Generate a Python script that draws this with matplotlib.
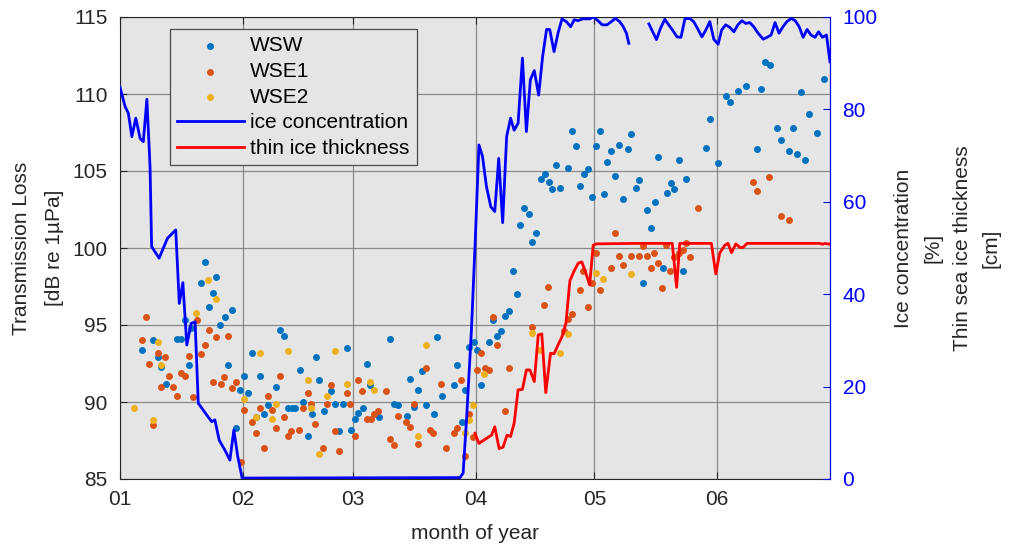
import numpy as np
import matplotlib
matplotlib.use("Agg")
import matplotlib.pyplot as plt

plt.rcParams['font.family'] = ['Liberation Sans', 'DejaVu Sans']

# day of year (0 = Jan 1) and transmission loss [dB]
wsw_day = [5.5, 8.4, 9.5, 10.4, 11.6, 14.3, 15.4, 16.4, 17.4, 17.9, 20.5, 21.5, 22.5, 23.5, 24.4,
           25.4, 26.5, 27.4, 28.4, 29.4, 30.4, 31.4, 32.4, 33.5, 34.4, 35.5, 36.4, 37.4, 39.4, 40.5,
           41.4, 42.4, 43.6, 44.3, 45.5, 46.4, 47.5, 48.5, 49.5, 50.4, 51.5, 53.5, 54.4, 55.4, 56.5,
           57.4, 58.4, 59.4, 60.3, 61.4, 62.4, 63.3, 64.5, 65.5, 68.4, 69.3, 70.4, 72.5, 73.4, 74.4,
           75.4, 76.4, 77.4, 79.5, 80.3, 81.4, 84.5, 85.3, 86.4, 87.3, 88.3, 89.6, 90.3, 91.4, 93.4,
           94.3, 95.3, 96.3, 97.3, 98.4, 99.4, 100.4, 101.3, 102.3, 103.4, 104.3, 105.3, 106.4, 107.4,
           108.4, 109.3, 110.3, 111.3, 113.4, 114.4, 115.3, 116.3, 117.3, 118.3, 119.4, 120.3, 121.3,
           122.4, 123.3, 124.3, 125.3, 126.3, 127.3, 128.4, 129.3, 130.4, 131.3, 132.2, 133.3, 134.3,
           135.3, 136.2, 137.3, 138.3, 139.3, 140.2, 141.3, 142.3, 143.3, 148.2, 149.2, 151.3, 153.2,
           154.2, 156.3, 158.3, 161.2, 162.2, 163.2, 164.3, 166.2, 167.2, 169.2, 170.2, 171.2, 172.3,
           173.2, 174.3, 176.2, 178.2]
wsw_tl = [93.4, 94.0, 92.9, 92.3, 91.2, 94.1, 94.1, 95.3, 92.4, 94.8, 97.7, 99.1, 96.2, 97.1, 98.1,
          95.0, 95.5, 92.4, 96.0, 88.3, 90.8, 91.7, 90.6, 93.2, 89.0, 91.7, 89.2, 89.8, 91.0, 94.7,
          94.3, 89.6, 89.6, 89.6, 92.1, 90.0, 87.8, 89.2, 92.9, 91.4, 89.4, 90.7, 89.9, 88.1, 89.9,
          93.5, 88.2, 88.9, 89.3, 89.6, 92.5, 91.1, 89.2, 89.0, 94.1, 89.9, 89.8, 89.1, 91.5, 89.7,
          90.8, 92.0, 89.8, 89.2, 94.2, 90.4, 91.1, 92.4, 88.7, 90.8, 93.6, 93.9, 93.4, 91.1, 93.9,
          95.3, 94.3, 94.6, 95.6, 95.9, 98.5, 97.0, 101.5, 102.6, 102.2, 100.4, 101.0, 104.5, 104.8,
          104.3, 103.8, 105.4, 103.9, 105.2, 107.6, 106.6, 104.0, 104.8, 105.1, 103.3, 106.6, 107.6,
          103.5, 105.6, 106.3, 104.7, 106.7, 103.2, 106.4, 107.4, 103.9, 104.4, 97.7, 102.5, 101.3,
          103.0, 105.9, 98.7, 103.6, 104.2, 103.8, 105.7, 98.5, 104.5, 106.5, 108.4, 105.5, 109.9,
          109.5, 110.2, 110.5, 106.4, 110.3, 112.1, 111.9, 107.8, 107.0, 106.3, 107.8, 106.1, 110.1,
          105.7, 108.7, 107.5, 111.0]

wse1_day = [5.5, 6.5, 7.4, 8.4, 9.5, 10.4, 11.5, 12.5, 13.4, 14.5, 15.4, 16.4, 17.4, 18.5, 19.5,
            20.4, 21.5, 22.4, 23.4, 24.4, 25.5, 26.4, 27.4, 28.4, 29.4, 30.5, 31.4, 33.5, 34.4, 35.3,
            36.4, 37.4, 38.4, 39.4, 40.4, 41.4, 42.4, 43.3, 45.4, 46.4, 47.5, 48.4, 49.4, 51.4, 52.3,
            53.4, 54.4, 55.4, 57.3, 58.3, 59.4, 60.3, 61.3, 62.4, 63.4, 64.3, 65.3, 67.4, 68.3, 69.3,
            70.4, 72.4, 73.3, 74.3, 75.4, 77.3, 78.3, 79.3, 81.3, 82.4, 84.4, 85.3, 86.3, 87.3, 88.3,
            89.3, 90.3, 91.4, 92.4, 93.4, 94.3, 95.3, 97.3, 98.3, 104.3, 107.2, 108.3, 112.3, 113.4,
            114.4, 116.3, 117.2, 118.3, 119.3, 120.3, 121.3, 124.3, 125.2, 126.2, 127.3, 129.2, 131.2,
            132.2, 133.2, 134.2, 135.2, 136.2, 137.2, 138.2, 139.2, 140.2, 141.3, 142.3, 143.2, 144.3,
            146.2, 160.2, 161.2, 164.2, 167.2, 169.2]
wse1_tl = [94.0, 95.5, 92.5, 88.5, 93.2, 91.0, 92.9, 91.7, 91.0, 90.4, 91.9, 91.7, 93.0, 90.3, 95.3,
           93.1, 93.7, 94.7, 91.3, 94.2, 91.2, 91.6, 94.3, 90.9, 91.3, 86.1, 89.5, 88.7, 88.0, 89.6,
           87.0, 90.4, 89.5, 88.3, 91.7, 89.0, 87.8, 88.1, 88.2, 89.6, 90.6, 89.9, 88.6, 87.0, 89.9,
           91.1, 88.1, 86.8, 90.6, 89.9, 87.8, 91.4, 90.7, 88.9, 88.9, 89.2, 89.4, 90.7, 87.6, 87.2,
           89.1, 88.7, 88.4, 89.9, 87.3, 92.2, 88.2, 88.0, 91.2, 87.0, 88.0, 88.3, 91.4, 86.5, 89.2,
           87.7, 92.1, 93.2, 92.2, 92.1, 95.5, 93.7, 89.4, 92.2, 94.9, 96.3, 97.5, 94.6, 95.4,
           95.7, 97.3, 98.5, 96.2, 97.7, 99.7, 97.3, 98.7, 101.0, 99.5, 98.9, 99.5, 99.5,
           100.1, 99.5, 98.7, 99.7, 99.0, 97.4, 100.2, 98.5, 99.4, 99.7, 99.9, 100.3, 99.4,
           102.6, 104.3, 103.7, 104.6, 102.1, 101.8]

wse2_day = [3.5, 8.4, 9.5, 10.4, 19.3, 22.3, 24.4, 31.4, 34.4, 35.4, 38.4, 39.4, 42.4, 47.5, 48.4,
            50.4, 52.3, 54.4, 57.3, 63.3, 64.3, 75.3, 77.3, 87.3, 88.3, 89.3, 92.2, 104.3, 106.2,
            111.3, 113.4, 120.3, 122.3, 129.2]
wse2_tl = [89.6, 88.8, 93.9, 92.4, 95.8, 97.9, 96.7, 90.2, 89.0, 93.2, 88.9, 89.9, 93.3, 91.4, 89.6,
           86.6, 90.4, 93.3, 91.2, 91.3, 90.8, 87.8, 93.7, 88.0, 88.8, 89.8, 91.8, 94.5, 93.4,
           93.2, 94.4, 98.4, 98.0, 98.3]

# ice concentration [%] (NaN = missing data)
ice_day = [0.0, 1.3, 2.1, 3.0, 4.0, 5.1, 5.9, 6.8, 7.6, 8.0, 9.9, 12.0, 14.1, 15.0, 15.9, 16.9,
           18.0, 19.0, 19.8, 21.9, 23.2, 24.0, 25.1, 26.5, 27.8, 28.8, 29.8, 30.9, 86.0, 86.8,
           87.7, 88.9, 89.8, 90.8, 91.7, 92.7, 93.8, 94.8, 95.8, 96.8, 97.8, 98.8, 99.7, 100.7,
           101.8, 102.8, 103.8, 104.8, 105.9, 106.9, 107.9, 108.7, 109.8, 110.8, 111.8, 112.9,
           114.0, 114.9, 115.9, 117.0, 118.8, 119.8, 120.9, 122.0, 123.2, 124.3, 125.3, 126.4,
           127.3, 128.1, 128.7, 131.0, 133.8, 135.7, 136.7, 137.8, 138.8, 139.9, 140.9, 141.9,
           142.9, 144.1, 145.1, 146.1, 147.2, 148.2, 149.2, 150.2, 151.3, 152.2, 153.2, 154.2,
           155.3, 156.3, 157.3, 158.3, 159.3, 160.3, 161.4, 162.7, 163.7, 164.7, 165.7, 166.7,
           167.7, 168.7, 169.8, 170.8, 171.8, 172.8, 173.8, 174.8, 175.8, 176.7, 177.7, 178.7,
           179.1, 179.6]
ice_conc = [84.8, 80.6, 79.2, 74.1, 78.1, 73.7, 73.0, 82.2, 67.6, 50.3, 47.8, 52.1, 53.9, 38.0,
            42.5, 29.0, 33.7, 34.0, 16.4, 13.9, 12.4, 12.8, 8.4, 6.3, 4.1, 10.6, 4.8, 0.2, 0.3, 1.3,
            13.5, 32.3, 50.3, 72.3, 69.8, 63.3, 58.9, 57.9, 69.4, 55.5, 74.1, 78.1, 75.5, 77.0,
            91.1, 75.2, 86.4, 88.4, 83.1, 91.4, 97.3, 97.3, 92.5, 96.5, 99.6, 99.0,
            97.9, 99.4, 99.2, 99.6, 99.6, 100.0, 99.2, 98.3, 98.3, 99.0, 99.7, 99.0,
            97.9, 96.5, 94.3, np.nan, 98.5, 95.1, 97.5, 99.5, 98.3, 97.0, 95.7, 95.6,
            99.6, 99.7, 99.0, 97.5, 95.7, 97.2, 99.0, 95.2, 94.1, 97.2, 98.3, 97.8,
            96.8, 98.3, 99.2, 98.6, 98.8, 97.9, 96.5, 95.2, 95.6, 96.1, 98.8, 96.5,
            97.9, 99.0, 99.7, 99.2, 97.9, 95.6, 97.3, 96.1, 95.6, 96.8, 95.6, 96.1,
            93.6, 90.3]

# thin sea ice thickness [cm]
thk_day = [89.8, 90.8, 92.7, 94.0, 94.8, 95.9, 96.9, 97.9, 98.8, 99.7, 100.7, 101.8, 102.8, 103.7,
           104.8, 105.8, 106.7, 107.7, 108.9, 109.8, 110.8, 111.8, 112.8, 113.8, 114.8, 115.9,
           116.8, 117.6, 118.8, 119.7, 120.5, 131.5, 139.7, 140.8, 141.6, 149.6, 150.7, 151.7,
           153.0, 153.8, 154.7, 155.8, 156.8, 157.6, 158.6, 177.0, 177.7, 178.3, 179.6]
thk_cm = [9.9, 7.7, 8.8, 9.5, 11.3, 6.6, 6.9, 9.5, 9.2, 12.1, 19.3, 19.4, 23.6, 23.6,
          21.1, 31.2, 31.4, 18.7, 27.2, 27.1, 29.0, 30.8, 33.7, 42.9, 44.9, 46.7,
          47.0, 45.2, 42.0, 50.6, 50.9, 51.0, 51.0, 41.5, 51.0, 51.0, 44.4, 48.9,
          50.6, 51.0, 49.0, 50.9, 50.1, 50.1, 51.0, 51.0, 50.8, 51.0, 50.8]

month_pos = [0, 31, 59, 90, 120, 151]
month_lab = ['01', '02', '03', '04', '05', '06']

txt = '#262626'
fs = 15

fig = plt.figure(figsize=(10.11, 5.5), dpi=100)
ax = fig.add_axes([120 / 1011, 1 - 479 / 550, 710 / 1011, 462 / 550])
ax.set_facecolor('#e5e5e5')

h1 = ax.scatter(wsw_day, wsw_tl, s=25, color='#0072BD', linewidths=0, label='WSW', zorder=3)
h2 = ax.scatter(wse1_day, wse1_tl, s=25, color='#D95319', linewidths=0, label='WSE1', zorder=3)
h3 = ax.scatter(wse2_day, wse2_tl, s=25, color='#EDB120', linewidths=0, label='WSE2', zorder=3)

ax.set_xlim(0, 179.6)
ax.set_ylim(85, 115)
ax.set_xticks(month_pos)
ax.set_xticklabels(month_lab)
ax.set_yticks(np.arange(85, 116, 5))
ax.grid(True, color='0.45', lw=0.9, alpha=0.8)
ax.set_axisbelow(True)
ax.tick_params(axis='both', direction='in', length=5, colors=txt, labelsize=fs, top=True)
ax.tick_params(axis='x', pad=8)
ax.tick_params(axis='y', pad=9, right=False)
for s in ['left', 'bottom', 'top']:
    ax.spines[s].set_color(txt)
ax.set_xlabel('month of year', fontsize=fs, color=txt, labelpad=11)
ax.set_ylabel('Transmission Loss\n[dB re 1µPa]', fontsize=fs, color=txt, labelpad=6, linespacing=1.95)

ax2 = ax.twinx()
ax2.patch.set_visible(False)
l1, = ax2.plot(ice_day, ice_conc, color='#0000ff', lw=2, label='ice concentration')
l2, = ax2.plot(thk_day, thk_cm, color='#ff0000', lw=2, label='thin ice thickness')
ax2.set_ylim(0, 100)
ax2.set_yticks(np.arange(0, 101, 20))
ax2.tick_params(axis='y', direction='in', length=5, colors='#0000ff', labelsize=fs, pad=9)
ax2.spines['right'].set_color('#0000ff')
for s in ['left', 'bottom', 'top']:
    ax2.spines[s].set_visible(False)
ax2.set_ylabel('Ice concentration\n[%]\nThin sea ice thickness\n[cm]', fontsize=fs, color=txt,
               rotation=90, labelpad=12, linespacing=1.68, multialignment='center')

leg = ax2.legend([h1, h2, h3, l1, l2], ['WSW', 'WSE1', 'WSE2', 'ice concentration', 'thin ice thickness'],
                 loc='upper left', bbox_to_anchor=(0.07, 0.974), fontsize=fs, frameon=True,
                 fancybox=False, facecolor='#e5e5e5', edgecolor='0.3', framealpha=1,
                 handlelength=3.2, handletextpad=0.3, labelspacing=0.32, borderpad=0.35,
                 borderaxespad=0)
leg.get_frame().set_linewidth(0.9)

fig.savefig('out.png', dpi=100)
